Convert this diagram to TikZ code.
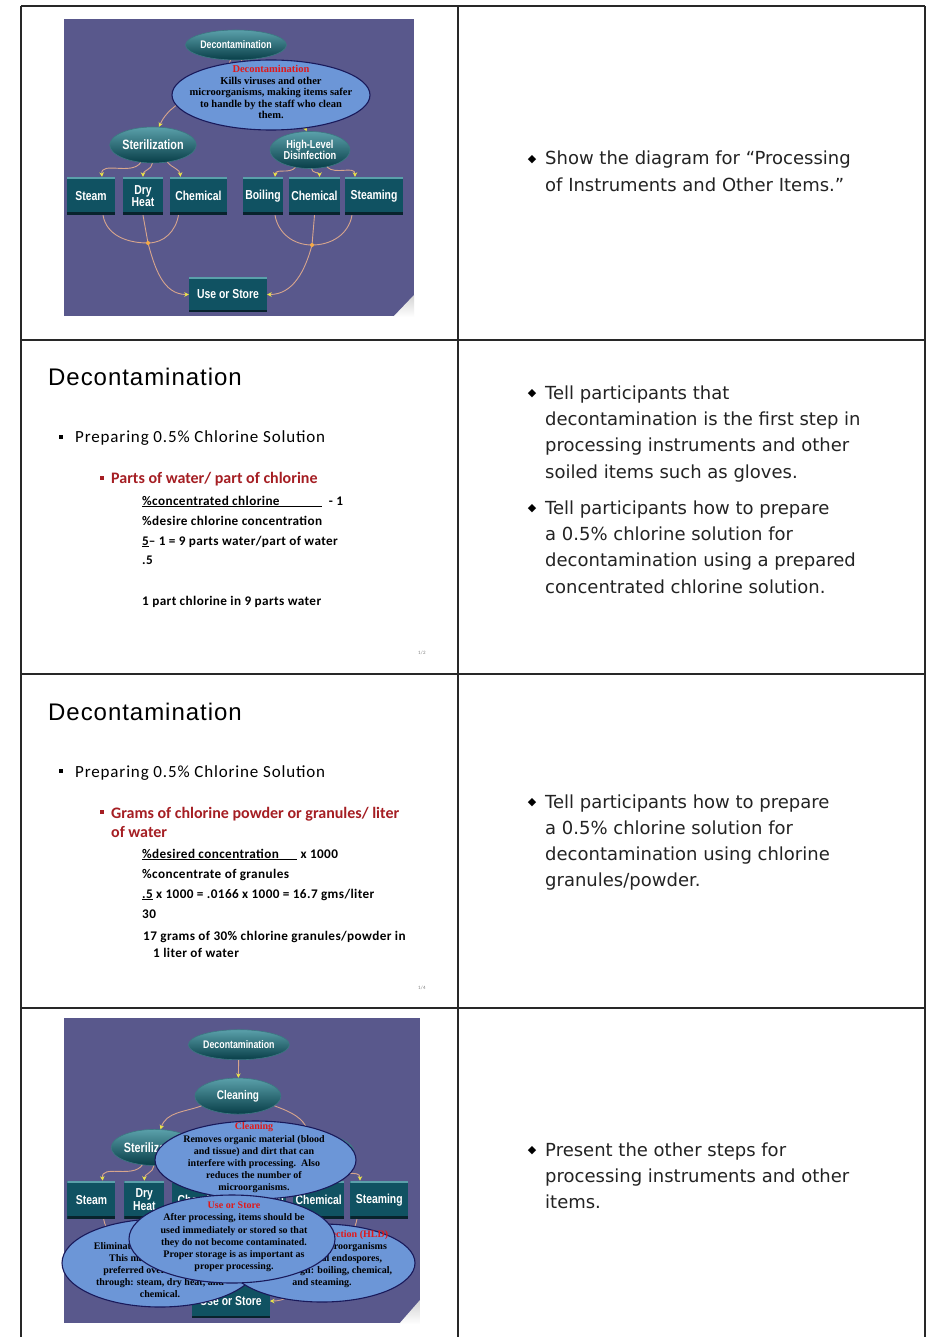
\documentclass[tikz,border=0pt]{standalone}
\usepackage{fontspec}
\setmainfont{Liberation Serif}
\newfontfamily\titlefont[LetterSpace=4]{Liberation Sans}
\newfontfamily\bodyfont[LetterSpace=5]{Carlito}
\newfontfamily\redfont{Carlito}
\newfontfamily\formfont[LetterSpace=3]{Carlito}
\newfontfamily\notefont{DejaVu Sans}
\newfontfamily\condfont[FakeStretch=0.8]{Liberation Sans}
\newfontfamily\infofont{Liberation Serif}
\usetikzlibrary{shapes.geometric,arrows.meta}
\definecolor{slidebg}{RGB}{89,88,140}
\definecolor{tealhi}{RGB}{90,160,170}
\definecolor{tealdk}{RGB}{8,62,72}
\definecolor{tealrim}{RGB}{60,120,130}
\definecolor{tealbox}{RGB}{16,82,98}
\definecolor{tealshadow}{RGB}{8,35,45}
\definecolor{connc}{RGB}{215,165,140}
\definecolor{arrowy}{RGB}{235,230,70}
\definecolor{dotc}{RGB}{245,170,70}
\definecolor{infoblue}{RGB}{108,150,215}
\definecolor{navy}{RGB}{25,25,90}
\definecolor{titlered}{RGB}{225,25,25}
\definecolor{bodyred}{RGB}{165,30,35}
\definecolor{notec}{RGB}{35,35,35}
\definecolor{tblc}{RGB}{40,40,40}

\newcommand\procbase{%
  \node[tealoval, minimum width=86, minimum height=30] (dec) at (236,45) {Decontamination};
  \node[tealoval, minimum width=86, minimum height=36, font=\condfont\bfseries\fontsize{13.5}{13}\selectfont] (ster) at (153,145) {Sterilization};
  \node[tealoval, minimum width=80, minimum height=37, font=\condfont\bfseries\fontsize{11.5}{11}\selectfont] (hld) at (310,150) {High-Level\\Disinfection};
  \node[tealbox, minimum width=48, minimum height=38] (steam) at (91,196) {Steam};
  \node[tealbox, minimum width=40, minimum height=38] (dry) at (143,196) {Dry\\Heat};
  \node[tealbox, minimum width=57, minimum height=38] (chem1) at (198.5,196) {Chemical};
  \node[tealbox, minimum width=40, minimum height=38] (boil) at (263,196) {Boiling};
  \node[tealbox, minimum width=51, minimum height=38] (chem2) at (314.5,196) {Chemical};
  \node[tealbox, minimum width=58, minimum height=38] (steaming) at (374,196) {Steaming};
  \node[tealbox, minimum width=78, minimum height=35] (use) at (228,294.5) {Use or Store};
  \coordinate (j1) at (148,243);
  \coordinate (j2) at (312,245);
  \draw[arr] (ster.235) to[out=235,in=95] ([xshift=11pt]steam.north);
  \draw[arr] (ster.268) to[out=265,in=90] (dry.north);
  \draw[arr] (ster.-50) to[out=-50,in=95] ([xshift=-18pt]chem1.north);
  \draw[arr] (hld.230) to[out=230,in=85] ([xshift=12pt]boil.north);
  \draw[arr] (hld.275) to[out=270,in=90] ([xshift=5pt]chem2.north);
  \draw[arr] (hld.-45) to[out=-45,in=90] ([xshift=-19pt]steaming.north);
  \draw[conn] ([xshift=12pt]steam.south) to[out=-80,in=180] (j1);
  \draw[conn] ([xshift=-20pt]chem1.south) to[out=-100,in=0] (j1);
  \draw[conn] (dry.south) -- (j1);
  \draw[arr] (j1) to[out=-75,in=180] (use.west);
  \draw[conn] ([xshift=12pt]boil.south) to[out=-80,in=180] (j2);
  \draw[conn] ([xshift=-22pt]steaming.south) to[out=-100,in=0] (j2);
  \draw[conn] (chem2.south) -- (j2);
  \draw[arr] (j2) to[out=-105,in=0] (use.east);
  \fill[dotc] (j1) circle (2);
  \fill[dotc] (j2) circle (2);
}

\begin{document}
\begin{tikzpicture}[x=1pt,y=-1pt,
  tbl/.style={draw=tblc, line width=1.2pt},
  tealoval/.style={ellipse, inner sep=0, top color=tealhi, bottom color=tealdk, draw=tealrim, line width=0.6pt, text=white, font=\condfont\bfseries\fontsize{11}{11}\selectfont, align=center},
  tealbox/.style={rectangle, inner sep=0, fill=tealbox, text=white, font=\condfont\bfseries\fontsize{13}{11.5}\selectfont, align=center,
    path picture={\fill[tealhi] (path picture bounding box.north west) rectangle ([yshift=-2.5pt]path picture bounding box.north east);
                  \fill[tealshadow] ([yshift=2.5pt]path picture bounding box.south west) rectangle (path picture bounding box.south east);}},
  conn/.style={draw=connc, line width=0.9pt},
  arr/.style={conn, -{Stealth[length=4.5pt,width=4.5pt,color=arrowy]}},
  infoell/.style={ellipse, inner sep=0, fill=infoblue, draw=navy, line width=1.1pt},
  infotext/.style={inner sep=0, align=center, font=\infofont\bfseries\fontsize{10}{12.2}\selectfont, text=black},
  titlet/.style={anchor=base west, inner sep=0, font=\titlefont\fontsize{24}{26}\selectfont},
  bodyt/.style={anchor=base west, inner sep=0, font=\bodyfont\fontsize{17}{20}\selectfont},
  redt/.style={anchor=base west, inner sep=0, text=bodyred, font=\redfont\bfseries\fontsize{16}{20}\selectfont},
  formt/.style={anchor=base west, inner sep=0, font=\formfont\bfseries\fontsize{13.2}{15}\selectfont},
  tinyt/.style={anchor=base west, inner sep=0, text=gray, font=\bodyfont\fontsize{5}{6}\selectfont},
  notet/.style={anchor=base west, inner sep=0, text=notec, font=\notefont\fontsize{18}{20}\selectfont},
  diam/.style={inner sep=0, text=black, font=\notefont\fontsize{11}{12}\selectfont}
]
\useasboundingbox (0,0) rectangle (928,1337);
\fill[white] (0,0) rectangle (928,1337);

% table
\draw[tbl] (21,6) -- (925,6);
\draw[tbl] (21,340) -- (925,340);
\draw[tbl] (21,674) -- (925,674);
\draw[tbl] (21,1008) -- (925,1008);
\draw[tbl] (21,6) -- (21,1337);
\draw[tbl] (458,6) -- (458,1337);
\draw[tbl] (925,6) -- (925,1337);

% ---------- slide 1 ----------
\fill[slidebg] (64,19) rectangle (414,316);
\begin{scope}[name prefix=s1-]
  \procbase
  \draw[arr] (dec.250) to[out=250,in=65] (ster.72);
  \draw[arr] (dec.290) to[out=290,in=115] (hld.100);
  \node[infoell, minimum width=198, minimum height=70] (info) at (271,95) {};
  \node[infotext, font=\infofont\bfseries\fontsize{10.5}{11.5}\selectfont] (infot) at (271,92)
    {\textcolor{titlered}{Decontamination}\\Kills viruses and other\\microorganisms, making items safer\\to handle by the staff who clean\\them.};
\end{scope}
\shade[top color=gray!35, bottom color=white] (393,317) -- (414,295) -- (414,317) -- cycle;

% ---------- slide 2 ----------
\node[titlet] (t2) at (48,385) {Decontamination};
\fill[black] (59,435) rectangle (63,439);
\node[bodyt] (p2) at (75,442) {Preparing 0.5\% Chlorine Solution};
\fill[bodyred] (100,476) rectangle (104,480);
\node[redt] (r2) at (111,483) {Parts of water/ part of chlorine};
\node[formt] (f2a) at (142,505) {\underline{\makebox[180pt][l]{\%concentrated chlorine}}\ \ - 1};
\node[formt] (f2b) at (142,525) {\%desire chlorine concentration};
\node[formt] (f2c) at (142,545) {\underline{5}– 1 = 9 parts water/part of water};
\node[formt] (f2d) at (142,564) {.5};
\node[formt] (f2e) at (142,605) {1 part chlorine in 9 parts water};
\node[tinyt] (n2) at (418,654) {1/2};

% ---------- slide 3 ----------
\node[titlet] (t3) at (48,720) {Decontamination};
\fill[black] (59,769) rectangle (63,773);
\node[bodyt] (p3) at (75,777) {Preparing 0.5\% Chlorine Solution};
\fill[bodyred] (100,810) rectangle (104,814);
\node[redt] (r3a) at (111,818) {Grams of chlorine powder or granules/ liter};
\node[redt] (r3b) at (111,837) {of water};
\node[formt] (f3a) at (142,858) {\underline{\makebox[155pt][l]{\%desired concentration}}\ x 1000};
\node[formt] (f3b) at (142,878) {\%concentrate of granules};
\node[formt] (f3c) at (142,898) {\underline{.5} x 1000 = .0166 x 1000 = 16.7 gms/liter};
\node[formt] (f3d) at (142,918) {30};
\node[formt] (f3e) at (143,940) {17 grams of 30\% chlorine granules/powder in};
\node[formt] (f3f) at (153,957) {1 liter of water};
\node[tinyt] (n3) at (418,989) {1/4};

% ---------- slide 4 ----------
\fill[slidebg] (64,1018) rectangle (420,1323);
\begin{scope}[cm={1.017,0,0,1.027,(-1.088,998.5)}, name prefix=s4-]
  \procbase
  \node[tealoval, minimum width=86, minimum height=36, font=\condfont\bfseries\fontsize{12.5}{12}\selectfont] (clean) at (235,95) {Cleaning};
  \draw[arr] (dec) -- (clean);
  \draw[arr] (clean.195) to[out=200,in=70] (ster.72);
  \draw[arr] (clean.-15) to[out=-20,in=110] (hld.105);
\end{scope}
\node[infoell, minimum width=196, minimum height=88] (sterell) at (160,1263) {};
\node[infotext] (stertxt) at (160,1264)
  {\textcolor{titlered}{Sterilization}\\Eliminates all microorganisms.\\This makes sterilization\\preferred over HLD. Done\\through: steam, dry heat, and\\chemical.};
\node[infoell, minimum width=186, minimum height=78] (hldell) at (322,1263) {};
\node[infotext] (hldtxt) at (322,1259)
  {\textcolor{titlered}{High-Level Disinfection (HLD)}\\Eliminates all microorganisms\\except bacterial endospores,\\Done through: boiling, chemical,\\and steaming.};
\node[infoell, minimum width=201, minimum height=78] (cleanell) at (255.5,1160) {};
\node[infotext] (cleantxt) at (254,1158)
  {\textcolor{titlered}{Cleaning}\\Removes organic material (blood\\and tissue) and dirt that can\\interfere with processing.\ \ Also\\reduces the number of\\microorganisms.};
\node[infoell, minimum width=206, minimum height=88] (useell) at (232,1239) {};
\node[infotext] (usetxt) at (234,1237)
  {\textcolor{titlered}{Use or Store}\\After processing, items should be\\used immediately or stored so that\\they do not become contaminated.\\Proper storage is as important as\\proper processing.};
\shade[top color=gray!35, bottom color=white] (399,1324) -- (420,1300) -- (420,1324) -- cycle;

% ---------- notes column ----------
\node[diam] (d1) at (532,160) {◆};
\node[notet] (a1) at (545,165) {Show the diagram for “Processing};
\node[notet] (a2) at (545,192) {of Instruments and Other Items.”};

\node[diam] (d2) at (532,394) {◆};
\node[notet] (b1) at (545,399.5) {Tell participants that};
\node[notet] (b2) at (545,425.7) {decontamination is the first step in};
\node[notet] (b3) at (545,451.9) {processing instruments and other};
\node[notet] (b4) at (545,478.1) {soiled items such as gloves.};
\node[diam] (d3) at (532,509) {◆};
\node[notet] (b5) at (545,514.5) {Tell participants how to prepare};
\node[notet] (b6) at (545,540.7) {a 0.5\% chlorine solution for};
\node[notet] (b7) at (545,566.9) {decontamination using a prepared};
\node[notet] (b8) at (545,593.1) {concentrated chlorine solution.};

\node[diam] (d4) at (532,803) {◆};
\node[notet] (c1) at (545,808) {Tell participants how to prepare};
\node[notet] (c2) at (545,834.2) {a 0.5\% chlorine solution for};
\node[notet] (c3) at (545,860.4) {decontamination using chlorine};
\node[notet] (c4) at (545,886.6) {granules/powder.};

\node[diam] (d5) at (532,1151) {◆};
\node[notet] (e1) at (545,1156) {Present the other steps for};
\node[notet] (e2) at (545,1182.2) {processing instruments and other};
\node[notet] (e3) at (545,1208.4) {items.};
\end{tikzpicture}
\end{document}
